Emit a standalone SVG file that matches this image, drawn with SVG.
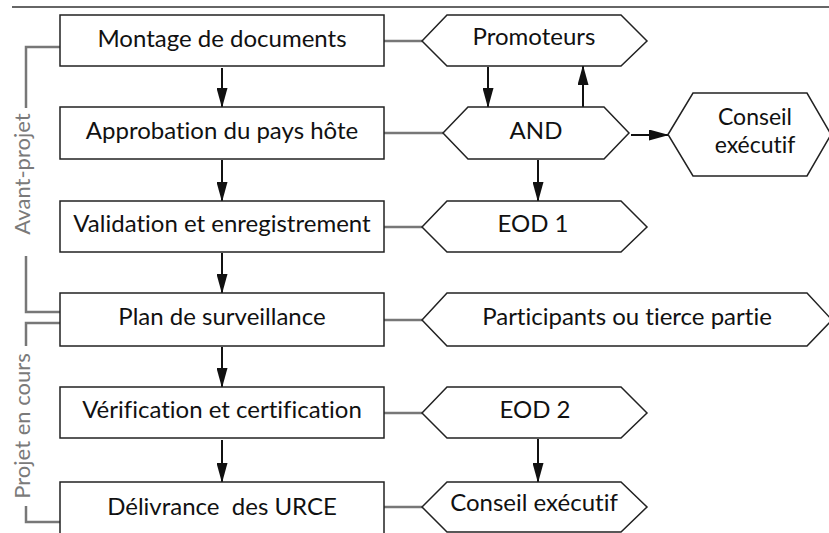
<svg xmlns="http://www.w3.org/2000/svg" width="829" height="533" viewBox="0 0 829 533">
<defs>
<style>
.box{fill:#fff;stroke:#222;stroke-width:1.5}
.hex{fill:#fff;stroke:#222;stroke-width:1.5}
.lbl{font-family:Lato,"Open Sans","Liberation Sans",sans-serif;font-size:24px;fill:#111;text-anchor:middle;font-variant-ligatures:none}
.phase{font-family:Lato,"Open Sans","Liberation Sans",sans-serif;font-size:22px;fill:#7a7a7a;text-anchor:middle;font-variant-ligatures:none}
.gray{fill:none;stroke:#777;stroke-width:2.5}
.arr{fill:none;stroke:#111;stroke-width:2;marker-end:url(#ah)}
</style>
<marker id="ah" markerUnits="userSpaceOnUse" markerWidth="20" markerHeight="11" refX="19" refY="5.5" orient="auto">
<path d="M0,0 L20,5.5 L0,11 z" fill="#111"/>
</marker>
</defs>
<rect width="829" height="533" fill="#fff"/>
<path d="M12,7 H829" stroke="#333" stroke-width="1.5"/>

<g id="phases">
<path class="gray" d="M60,47 H26 V108"/>
<path class="gray" d="M26,256 V312 H60"/>
<path class="gray" d="M60,323 H26 V346"/>
<path class="gray" d="M26,506 V522 H60"/>
<text class="phase" transform="translate(30,174) rotate(-90)">Avant-projet</text>
<text class="phase" transform="translate(30,426) rotate(-90)">Projet en cours</text>
</g>

<g id="connectors">
<path class="gray" d="M384,41 H422"/>
<path class="gray" d="M384,133 H443"/>
<path class="gray" d="M384,227 H422"/>
<path class="gray" d="M384,320 H422"/>
<path class="gray" d="M384,413 H422"/>
<path class="gray" d="M384,507 H422"/>
<path class="arr" d="M222,68 V107"/>
<path class="arr" d="M222,160 V201"/>
<path class="arr" d="M222,253 V293"/>
<path class="arr" d="M222,347 V387"/>
<path class="arr" d="M222,440 V482"/>
<path class="arr" d="M488,67 V107"/>
<path class="arr" d="M583,107 V66"/>
<path class="arr" d="M631,135 H668"/>
<path class="arr" d="M538,160 V201"/>
<path class="arr" d="M538,439 V482"/>
</g>

<g id="n-montage"><rect class="box" x="60" y="15" width="324" height="51"/><text class="lbl" x="222" y="47">Montage de documents</text></g>
<g id="n-approbation"><rect class="box" x="60" y="107" width="324" height="52"/><text class="lbl" x="222" y="139">Approbation du pays hôte</text></g>
<g id="n-validation"><rect class="box" x="60" y="201" width="324" height="51"/><text class="lbl" x="222" y="232">Validation et enregistrement</text></g>
<g id="n-plan"><rect class="box" x="60" y="293" width="324" height="53"/><text class="lbl" x="222" y="325">Plan de surveillance</text></g>
<g id="n-verification"><rect class="box" x="60" y="387" width="324" height="51"/><text class="lbl" x="222" y="418">Vérification et certification</text></g>
<g id="n-delivrance"><rect class="box" x="60" y="482" width="324" height="56"/><text class="lbl" x="222" y="515" xml:space="preserve">Délivrance  des URCE</text></g>

<g id="n-promoteurs"><polygon class="hex" points="422,41 447,15 621,15 647,41 621,66 447,66"/><text class="lbl" x="534" y="45">Promoteurs</text></g>
<g id="n-and"><polygon class="hex" points="443,133 468,107 604,107 629,133 604,159 468,159"/><text class="lbl" x="536" y="139">AND</text></g>
<g id="n-conseil1"><polygon class="hex" points="668,134.5 693,93 807,93 831,134.5 807,176 693,176"/><text class="lbl" x="755" y="125" style="font-size:23px">Conseil<tspan x="755" dy="28">exécutif</tspan></text></g>
<g id="n-eod1"><polygon class="hex" points="422,227 447,201 621,201 647,227 621,252 447,252"/><text class="lbl" x="533" y="232">EOD 1</text></g>
<g id="n-participants"><polygon class="hex" points="422,320 447,293 807,293 832,320 807,346 447,346"/><text class="lbl" x="627" y="325">Participants ou tierce partie</text></g>
<g id="n-eod2"><polygon class="hex" points="422,413 447,387 621,387 647,413 621,438 447,438"/><text class="lbl" x="535" y="418">EOD 2</text></g>
<g id="n-conseil2"><polygon class="hex" points="422,507 447,482 621,482 647,507 621,532 447,532"/><text class="lbl" x="534" y="511">Conseil exécutif</text></g>
</svg>
